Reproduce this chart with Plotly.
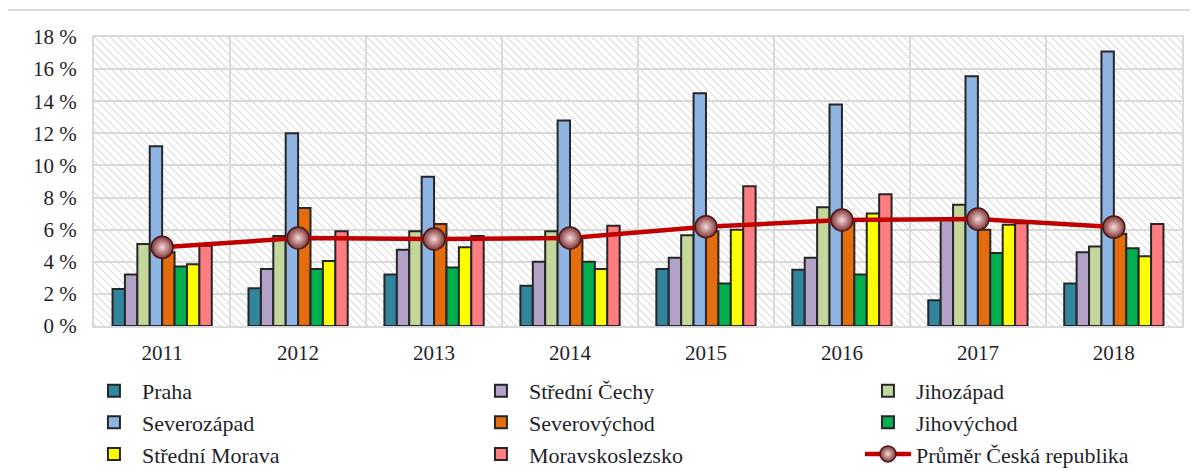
import base64
import plotly.graph_objects as go

years = ["2011", "2012", "2013", "2014", "2015", "2016", "2017", "2018"]

praha = [2.3, 2.35, 3.2, 2.5, 3.55, 3.5, 1.6, 2.65]
stredni_cechy = [3.2, 3.55, 4.75, 4.0, 4.25, 4.25, 6.6, 4.6]
jihozapad = [5.1, 5.6, 5.9, 5.9, 5.65, 7.4, 7.55, 4.95]
severozapad = [11.2, 12.0, 9.3, 12.8, 14.5, 13.8, 15.55, 17.1]
severovychod = [4.6, 7.35, 6.35, 5.6, 5.9, 6.5, 6.0, 5.75]
jihovychod = [3.7, 3.55, 3.65, 4.0, 2.65, 3.2, 4.55, 4.85]
stredni_morava = [3.85, 4.05, 4.9, 3.55, 6.0, 7.0, 6.3, 4.35]
moravskoslezsko = [5.0, 5.9, 5.6, 6.25, 8.7, 8.2, 6.4, 6.35]
prumer_cr = [4.9, 5.48, 5.42, 5.48, 6.18, 6.6, 6.66, 6.16]

y_ticks = [0, 2, 4, 6, 8, 10, 12, 14, 16, 18]
y_ticktext = [f"{v} %" for v in y_ticks]

regions = [
    ("Praha", praha, "#31859C"),
    ("Střední Čechy", stredni_cechy, "#B3A2C7"),
    ("Jihozápad", jihozapad, "#C3D69B"),
    ("Severozápad", severozapad, "#8EB4E3"),
    ("Severovýchod", severovychod, "#E46C0A"),
    ("Jihovýchod", jihovychod, "#00B050"),
    ("Střední Morava", stredni_morava, "#FFFF00"),
    ("Moravskoslezsko", moravskoslezsko, "#FF7C80"),
]

FONT = "Liberation Serif, Times New Roman, serif"
TXT = "#1f1f2a"

fig = go.Figure()
for name, vals, col in regions:
    fig.add_trace(go.Bar(
        x=years, y=vals, name=name,
        marker=dict(color=col, line=dict(color="#262626", width=2)),
    ))

fig.add_trace(go.Scatter(
    x=years, y=prumer_cr, name="Průměr Česká republika",
    mode="lines+markers",
    line=dict(color="#C00000", width=4.5),
    marker=dict(size=22, color="#7E3434",
                gradient=dict(type="radial", color="#F8DADA"),
                line=dict(color="#4A1818", width=1.5)),
))

# hatched plot background
svg = (
    "<svg xmlns='http://www.w3.org/2000/svg' width='1088' height='289' "
    "viewBox='0 0 1088 289' preserveAspectRatio='none'>"
    "<defs><pattern id='h' width='5.5' height='5.5' patternUnits='userSpaceOnUse' "
    "patternTransform='rotate(-45)'>"
    "<line x1='0' y1='0' x2='0' y2='5.5' stroke='#d6d6d6' stroke-width='1.8'/>"
    "</pattern></defs>"
    "<rect width='100%' height='100%' fill='white'/>"
    "<rect width='100%' height='100%' fill='url(#h)'/></svg>"
)
src = "data:image/svg+xml;base64," + base64.b64encode(svg.encode()).decode()

fig.update_layout(
    width=1190, height=463,
    margin=dict(l=86, r=16, t=29, b=145, autoexpand=False),
    paper_bgcolor="white",
    plot_bgcolor="white",
    barmode="group",
    bargap=0.27,
    bargroupgap=0,
    font=dict(family=FONT, size=21, color=TXT),
    images=[dict(source=src, xref="paper", yref="paper", x=0, y=1,
                 sizex=1, sizey=1, xanchor="left", yanchor="top",
                 sizing="stretch", layer="below")],
    shapes=[dict(type="rect", xref="paper", yref="paper",
                 x0=-0.08, x1=1.05, y0=-0.7, y1=1.093,
                 line=dict(color="#d9d9d9", width=2), layer="below")],
    legend=dict(
        orientation="h", x=-0.0074, xanchor="left", y=-0.152, yanchor="top",
        entrywidth=326, entrywidthmode="pixels", itemwidth=46,
        font=dict(family=FONT, size=22, color=TXT),
        bgcolor="rgba(0,0,0,0)", traceorder="normal",
    ),
    showlegend=True,
)

fig.update_xaxes(
    type="category", tickson="boundaries", showgrid=True,
    gridcolor="#d9d9d9", gridwidth=2,
    showline=True, mirror=True, linecolor="#d9d9d9", linewidth=2,
    ticks="", ticklabelstandoff=7, tickfont=dict(size=21),
)
fig.update_yaxes(
    range=[0, 18], tickvals=y_ticks, ticktext=y_ticktext,
    showgrid=True, gridcolor="#d9d9d9", gridwidth=2,
    showline=True, mirror=True, linecolor="#d9d9d9", linewidth=2,
    zeroline=False, ticks="", ticklabelstandoff=11, tickfont=dict(size=21),
)

fig.write_html("out.html")
